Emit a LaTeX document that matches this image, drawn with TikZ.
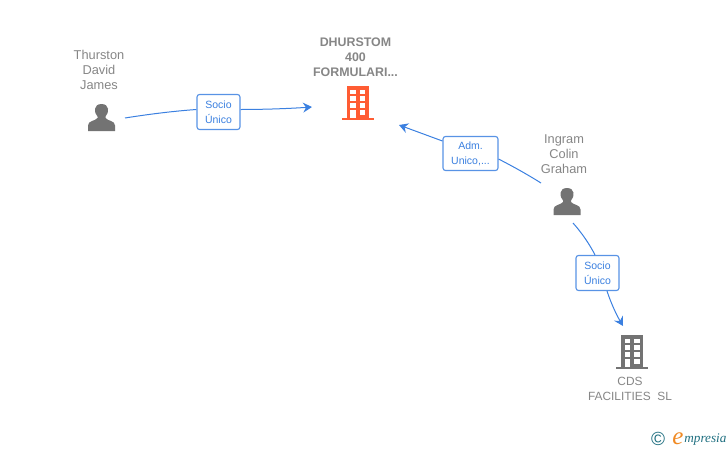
\documentclass[tikz,border=0pt]{standalone}
\usepackage{fontspec}
\setmainfont{Liberation Sans}
\newfontfamily\logofont{Liberation Serif}
\definecolor{linkblue}{HTML}{3B80E0}
\definecolor{icongray}{HTML}{737373}
\definecolor{textgray}{HTML}{868686}
\definecolor{mainorange}{HTML}{FF5C33}
\definecolor{logoteal}{HTML}{1F6F80}
\definecolor{logoorange}{HTML}{F08A24}
\usetikzlibrary{arrows.meta}
\newcommand{\personicon}[2]{%
    \fill[icongray,shift={(#1,#2)}] (-13.5,13.5) -- (-13.5,8) .. controls (-13.5,3) and (-6,3.5) .. (-4,0.5)
        -- (-4,-1) .. controls (-8,-5) and (-8,-13.5) .. (0,-13.5)
        .. controls (8,-13.5) and (8,-5) .. (4,-1) -- (4,0.5)
        .. controls (6,3.5) and (13.5,3) .. (13.5,8) -- (13.5,13.5) -- cycle;
}
\newcommand{\buildingicon}[3]{%
    \begin{scope}[shift={(#1,#2)}]
        \fill[#3] (-16,17.5) rectangle (16,15.5);
        \fill[#3] (-11,-16.5) rectangle (11,16);
        \foreach \rowy in {-13,-6.5,0.5} {
            \fill[white] (-7.5,\rowy) rectangle (-2,\rowy+4.5);
            \fill[white] (2,\rowy) rectangle (7.5,\rowy+4.5);
        }
        \fill[white] (-7.5,7.5) rectangle (-2,15.5);
        \fill[white] (2,7.5) rectangle (7.5,12.5);
    \end{scope}
}
\begin{document}
\begin{tikzpicture}[
        x=1pt,y=-1pt,
        font=\fontsize{12}{15}\selectfont,
        thick
    ]
    \tikzset{
        namelabel/.style = {align=center,text=textgray,inner sep=0pt},
        personlabel/.style = {namelabel,font=\fontsize{12.8}{15}\selectfont},
        linklabel/.style = {rectangle,rounded corners=2.5pt,draw=linkblue!85,fill=white,align=center,text=linkblue,
            font=\fontsize{10.5}{15}\selectfont,line width=1.1pt,inner sep=0pt},
        linkline/.style = {draw=linkblue,line width=1pt},
        linkarrow/.style = {linkline,-{Stealth[length=9pt,width=10pt,inset=3pt]}},
    }
    \useasboundingbox (0,0) rectangle (728,450);
    \personicon{101.5}{117.5}
    \personicon{567}{201.5}
    \buildingicon{357.5}{102.5}{mainorange}
    \buildingicon{632}{351.5}{icongray}
    \node[personlabel] (thurston) at (99,70) {Thurston\\David\\James};
    \node[personlabel] (ingram) at (564,154.5) {Ingram\\Colin\\Graham};
    \node[namelabel,font=\fontsize{12.4}{15}\selectfont\bfseries] (dhurstom) at (355.5,57) {DHURSTOM\\400\\FORMULARI...};
    \node[namelabel,font=\fontsize{11.9}{15}\selectfont] (cds) at (630,389) {CDS\\FACILITIES~~SL};
    \node[linklabel,minimum width=43pt,minimum height=35pt] (socioa) at (218.5,112) {Socio\\Único};
    \node[linklabel,minimum width=55pt,minimum height=34pt] (adm) at (470.5,153.5) {Adm.\\Unico,...};
    \node[linklabel,minimum width=43pt,minimum height=35pt] (sociob) at (597.5,273) {Socio\\Único};
    \coordinate (thurstonout) at (125,118);
    \coordinate (dhurstomin) at (312,107);
    \coordinate (ingramout) at (541,183);
    \coordinate (dhurstomback) at (399,125);
    \coordinate (ingramdown) at (573,223);
    \coordinate (cdsin) at (623,326);
    \draw[linkline] (thurstonout) .. controls (150,114) and (175,111) .. (socioa.west |- 0,109.5);
    \draw[linkarrow] (socioa.east |- 0,109.5) .. controls (265,109.5) and (290,108.5) .. (dhurstomin);
    \draw[linkline] (ingramout) .. controls (525,173) and (512,166) .. (adm.east |- 0,159);
    \draw[linkarrow] (adm.west |- 0,141) -- (dhurstomback);
    \draw[linkline] (ingramdown) .. controls (582,233) and (590,245) .. (sociob.north -| 595,0);
    \draw[linkarrow] (sociob.south -| 607,0) .. controls (611,303) and (616,314) .. (cdsin);
    \node[text=logoteal,font=\fontsize{19}{19}\selectfont,inner sep=0pt] (copyright) at (658,439) {©};
    \node[text=logoorange,font=\logofont\fontsize{25}{25}\selectfont\itshape,inner sep=0pt] (logoe) at (678,439) {e};
    \node[text=logoteal,anchor=west,font=\logofont\fontsize{13.2}{14}\selectfont\itshape,inner sep=0pt] (logotext) at (684,440) {mpresia};
\end{tikzpicture}
\end{document}
